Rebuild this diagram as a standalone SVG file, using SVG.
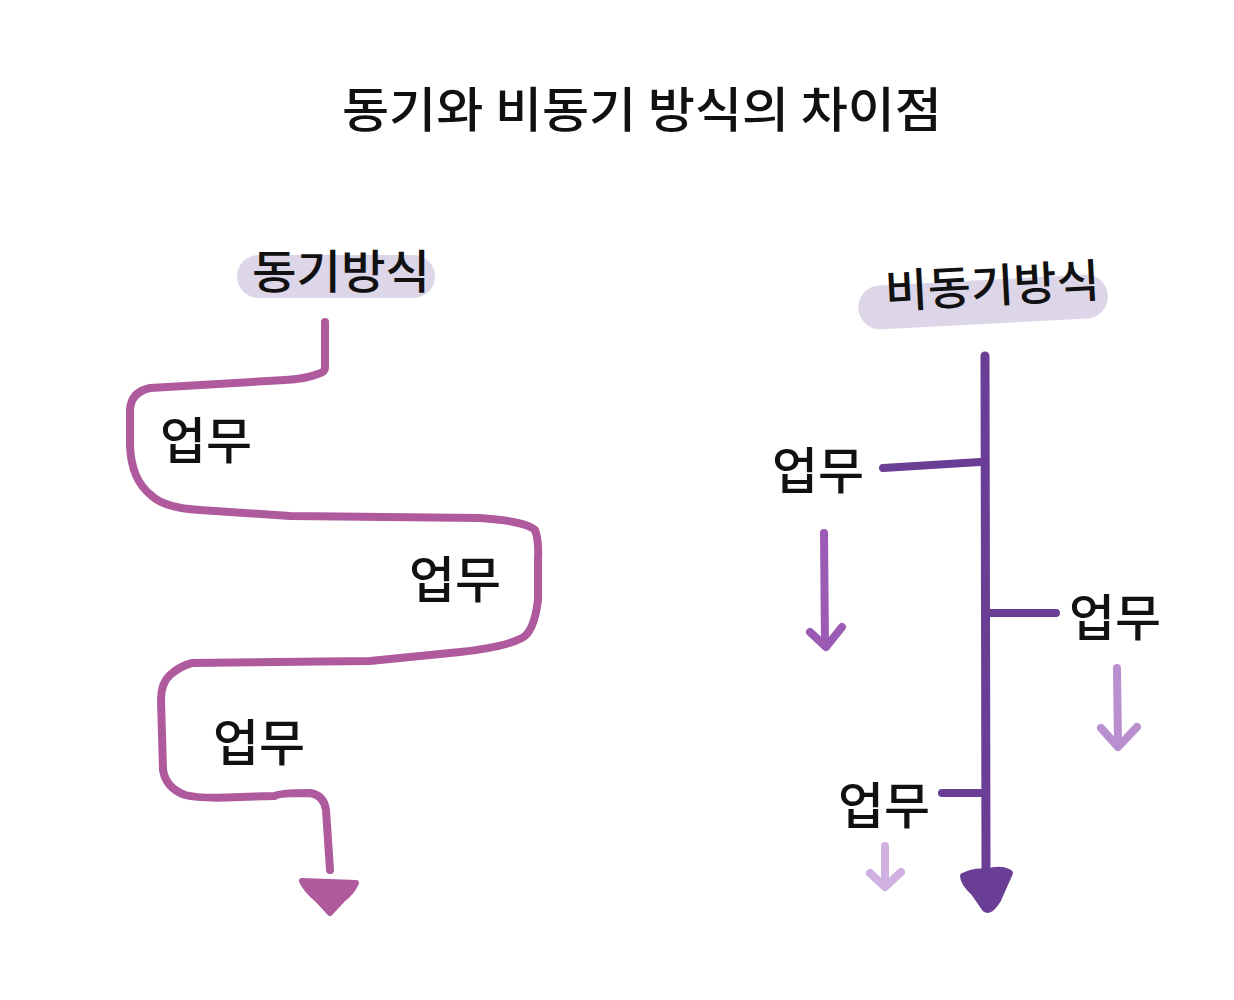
<svg xmlns="http://www.w3.org/2000/svg" width="1234" height="1000" viewBox="0 0 1234 1000">
<style>
.t{font-family:"Noto Sans CJK KR","Noto Sans",sans-serif;fill:#111;font-weight:500}
.ln{fill:none;stroke-linecap:round;stroke-linejoin:round}
</style>
<rect width="1234" height="1000" fill="#fff"/>
<g id="title"><text class="t" x="642" y="127" font-size="48" text-anchor="middle" textLength="600" lengthAdjust="spacingAndGlyphs">동기와 비동기 방식의 차이점</text></g>
<g id="sync-label">
<rect x="237" y="255" width="198" height="43" rx="21.5" fill="#DDD5E8"/>
<text class="t" x="341" y="288" font-size="46" text-anchor="middle" textLength="178" lengthAdjust="spacingAndGlyphs">동기방식</text>
</g>
<g id="async-label" transform="rotate(-3 983 300)">
<rect x="858" y="280" width="250" height="44" rx="22" fill="#DDD5E8"/>
<text class="t" x="993" y="303" font-size="46" text-anchor="middle" textLength="215" lengthAdjust="spacingAndGlyphs">비동기방식</text>
</g>
<g id="connectors">
<path class="ln" stroke="#B05A9E" stroke-width="8" d="M325 322 L325 368 Q325 372 318 374 Q305 379 285 380 L150 388 Q131 392 130 410 L130 445 Q131 480 152 496 Q165 508 200 510 L290 516 L480 518 Q525 521 535 530 Q539 540 538 560 L538 600 Q534 632 522 638 Q505 647 460 652 L370 661 L192 663 Q180 666 170 675 Q161 683 161 700 L163 770 Q166 788 185 795 Q200 799 240 797 L275 796 Q278 793 310 793 Q324 795 326 810 L330 870"/>
<path fill="#B05A9E" stroke="#B05A9E" stroke-width="6" stroke-linejoin="round" d="M302 881 L356 883 Q352 892 342 900 L330 913 L318 900 Q306 890 302 881 Z"/>
<path class="ln" stroke="#6B3E96" stroke-width="9" d="M985 356 L986 870"/>
<path fill="#6B3E96" stroke="#6B3E96" stroke-width="6" stroke-linejoin="round" d="M963 876 Q975 870 986 872 Q1002 867 1010 873 L998 900 Q990 913 985 909 L974 893 Q963 883 963 876 Z"/>
<path class="ln" stroke="#6B3E96" stroke-width="8" d="M883 468 L980 462"/>
<path class="ln" stroke="#6B3E96" stroke-width="8" d="M990 613 L1056 613"/>
<path class="ln" stroke="#6B3E96" stroke-width="8" d="M942 793 L980 793"/>
<path class="ln" stroke="#9B5BB5" stroke-width="8" d="M824 533 L825 645 M810 632 L826 647 L842 627"/>
<path class="ln" stroke="#B98FD0" stroke-width="8" d="M1117 668 L1118 746 M1101 728 L1118 747 L1137 727"/>
<path class="ln" stroke="#D0B0E0" stroke-width="8" d="M885 846 L885 885 M870 873 L885 887 L901 872"/>
</g>
<g id="task-s1"><text class="t" x="206" y="459" font-size="50" text-anchor="middle">업무</text></g>
<g id="task-s2"><text class="t" x="455" y="598" font-size="50" text-anchor="middle">업무</text></g>
<g id="task-s3"><text class="t" x="259" y="761" font-size="50" text-anchor="middle">업무</text></g>
<g id="task-a1"><text class="t" x="818" y="489" font-size="50" text-anchor="middle">업무</text></g>
<g id="task-a2"><text class="t" x="1115" y="636" font-size="50" text-anchor="middle">업무</text></g>
<g id="task-a3"><text class="t" x="884" y="824" font-size="50" text-anchor="middle">업무</text></g>
</svg>
